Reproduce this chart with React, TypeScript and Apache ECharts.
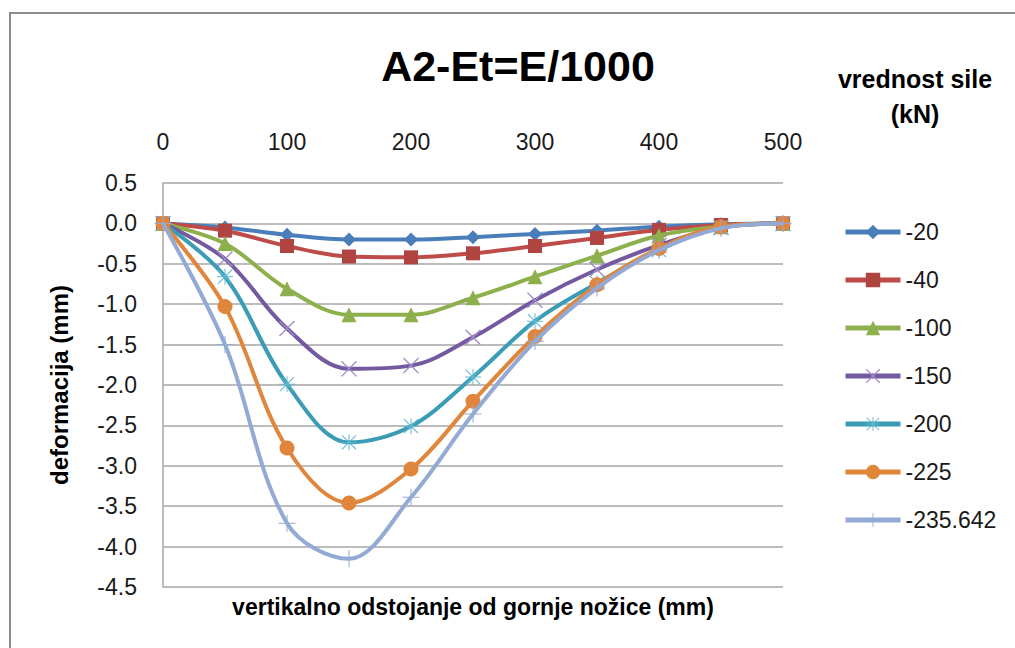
import React, { useEffect, useRef } from "react";
import * as echarts from "echarts";

const xValues = [0, 50, 100, 150, 200, 250, 300, 350, 400, 450, 500];
const seriesNames = ["-20", "-40", "-100", "-150", "-200", "-225", "-235.642"];
const s20 = [0, -0.05, -0.14, -0.2, -0.2, -0.17, -0.13, -0.09, -0.04, -0.01, 0];
const s40 = [0, -0.09, -0.28, -0.41, -0.42, -0.37, -0.28, -0.18, -0.08, -0.02, 0];
const s100 = [0, -0.25, -0.81, -1.13, -1.13, -0.92, -0.66, -0.4, -0.15, -0.04, 0];
const s150 = [0, -0.44, -1.3, -1.8, -1.76, -1.41, -0.95, -0.57, -0.27, -0.05, 0];
const s200 = [0, -0.66, -1.99, -2.71, -2.51, -1.9, -1.21, -0.74, -0.33, -0.05, 0];
const s225 = [0, -1.03, -2.78, -3.46, -3.04, -2.2, -1.4, -0.76, -0.31, -0.04, 0];
const s235 = [0, -1.5, -3.71, -4.15, -3.39, -2.36, -1.46, -0.8, -0.33, -0.06, 0];
const allSeries = [s20, s40, s100, s150, s200, s225, s235];

const title = "A2-Et=E/1000";
const xAxisTitle = "vertikalno odstojanje od gornje nožice (mm)";
const yAxisTitle = "deformacija (mm)";
const legendTitle = "vrednost sile\n(kN)";

const lineColors = ["#4A7EBB", "#BE4B48", "#8DB04C", "#7559A0", "#3A9CB5", "#E0863C", "#93AAD4"];
const markerColors = ["#4A7EBB", "#B04442", "#8DB04C", "#A08CC8", "#5CB8D0", "#E0863C", "#93AAD4"];

const X_PATH = "path://M0,1.2 L1.2,0 L10,8.8 L18.8,0 L20,1.2 L11.2,10 L20,18.8 L18.8,20 L10,11.2 L1.2,20 L0,18.8 L8.8,10 Z";
const PLUS_PATH = "path://M9.4,0 H10.6 V9.4 H20 V10.6 H10.6 V20 H9.4 V10.6 H0 V9.4 H9.4 Z";
const STAR_PATH =
  "path://M9.4,0 H10.6 V9.4 H20 V10.6 H10.6 V20 H9.4 V10.6 H0 V9.4 H9.4 Z M1.7,0.8 L10,9.1 L18.3,0.8 L19.2,1.7 L10.9,10 L19.2,18.3 L18.3,19.2 L10,10.9 L1.7,19.2 L0.8,18.3 L9.1,10 L0.8,1.7 Z";
const symbols = ["diamond", "rect", "triangle", X_PATH, STAR_PATH, "circle", PLUS_PATH];
const symbolSizes = [14, 14, 15, 16, 16, 15, 17];

const FONT = "'Liberation Sans', Arial, sans-serif";

export default function App() {
  const ref = useRef<HTMLDivElement>(null);
  useEffect(() => {
    document.body.style.margin = "0";
    const chart = echarts.init(ref.current!, null, { renderer: "svg" });
    const option: any = {
      animation: false,
      backgroundColor: "#ffffff",
      textStyle: { fontFamily: FONT },
      grid: { left: 163, right: 232, top: 183, bottom: 61 },
      xAxis: {
        type: "value",
        position: "top",
        min: 0,
        max: 500,
        interval: 100,
        axisLine: { show: false },
        axisTick: { show: false },
        splitLine: { show: false },
        axisLabel: { fontSize: 23, color: "#1a1a1a", margin: 30, fontFamily: FONT },
      },
      yAxis: {
        type: "value",
        min: -4.5,
        max: 0.5,
        interval: 0.5,
        name: yAxisTitle,
        nameLocation: "middle",
        nameRotate: 90,
        nameGap: 92,
        nameTextStyle: { fontSize: 24, fontWeight: "bold", color: "#000", fontFamily: FONT },
        axisLine: { show: true, onZero: false, lineStyle: { color: "#a6a6a6", width: 1.5 } },
        axisTick: { show: false },
        splitLine: { show: true, lineStyle: { color: "#a6a6a6", width: 1.5 } },
        axisLabel: {
          fontSize: 23,
          color: "#1a1a1a",
          margin: 26,
          fontFamily: FONT,
          formatter: (v: number) => v.toFixed(1),
        },
      },
      legend: {
        orient: "vertical",
        left: 838,
        top: 215,
        itemWidth: 55,
        itemHeight: 18,
        itemGap: 24,
        data: seriesNames,
        lineStyle: { width: 5 },
        textStyle: { fontSize: 23, color: "#1a1a1a", lineHeight: 24, fontFamily: FONT },
      },
      graphic: [
        {
          type: "rect",
          shape: { x: 10, y: 13, width: 1200, height: 800 },
          style: { fill: "none", stroke: "#8c8c8c", lineWidth: 2 },
          silent: true,
        },
        {
          type: "text",
          x: 518,
          y: 66,
          style: {
            text: title,
            fontSize: 43,
            fontWeight: "bold",
            fill: "#000",
            fontFamily: FONT,
            textAlign: "center",
            textVerticalAlign: "middle",
          },
        },
        {
          type: "text",
          x: 915,
          y: 96,
          style: {
            text: legendTitle,
            fontSize: 25,
            lineHeight: 35,
            fontWeight: "bold",
            fill: "#000",
            fontFamily: FONT,
            textAlign: "center",
            textVerticalAlign: "middle",
          },
        },
        {
          type: "text",
          x: 473,
          y: 607,
          style: {
            text: xAxisTitle,
            fontSize: 23,
            fontWeight: "bold",
            fill: "#000",
            fontFamily: FONT,
            textAlign: "center",
            textVerticalAlign: "middle",
          },
        },
      ],
      series: allSeries.map((vals, i) => ({
        name: seriesNames[i],
        type: "line",
        smooth: 0.35,
        data: xValues.map((x, j) => [x, vals[j]]),
        symbol: symbols[i],
        symbolSize: symbolSizes[i],
        showAllSymbol: true,
        lineStyle: { color: lineColors[i], width: 4 },
        itemStyle: { color: markerColors[i] },
        z: 2 + i,
      })),
    };
    chart.setOption(option);
    return () => chart.dispose();
  }, []);
  return <div ref={ref} style={{ position: "absolute", left: 0, top: 0, width: 1015, height: 648 }} />;
}
